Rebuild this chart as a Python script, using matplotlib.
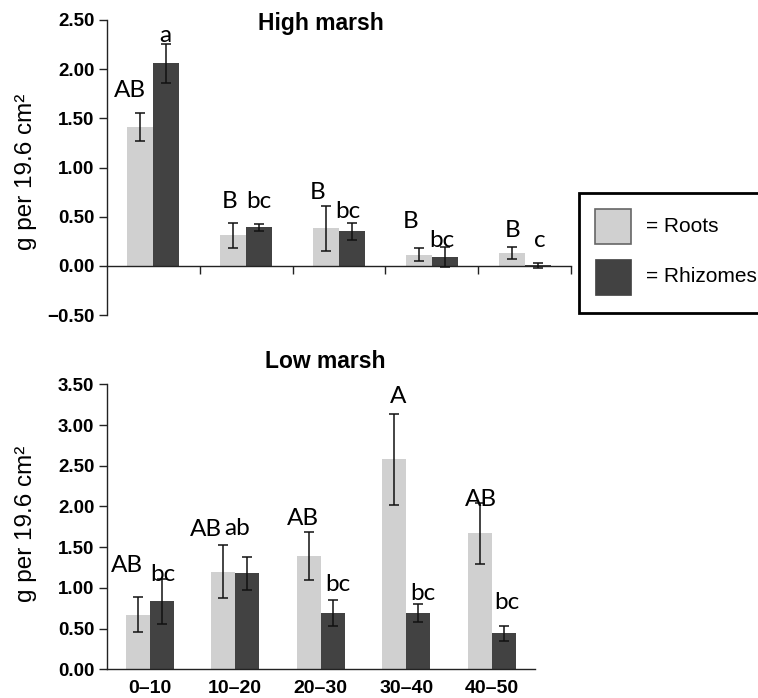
import numpy as np
import matplotlib
matplotlib.use("Agg")
import matplotlib.pyplot as plt
from matplotlib.patches import Rectangle

# depth classes (cm)
depths = ['0–10', '10–20', '20–30', '30–40', '40–50']

# high marsh biomass, g per 19.6 cm2
high_roots = [1.41, 0.31, 0.38, 0.115, 0.13]
high_roots_se = [0.14, 0.13, 0.23, 0.07, 0.063]
high_rhiz = [2.06, 0.39, 0.35, 0.09, 0.005]
high_rhiz_se = [0.20, 0.04, 0.085, 0.10, 0.025]
high_roots_letters = ['AB', 'B', 'B', 'B', 'B']
high_rhiz_letters = ['a', 'bc', 'bc', 'bc', 'c']

# low marsh
low_roots = [0.67, 1.20, 1.39, 2.58, 1.67]
low_roots_se = [0.215, 0.33, 0.295, 0.56, 0.375]
low_rhiz = [0.835, 1.18, 0.69, 0.69, 0.44]
low_rhiz_se = [0.28, 0.20, 0.16, 0.115, 0.09]
low_roots_letters = ['AB', 'AB', 'AB', 'A', 'AB']
low_rhiz_letters = ['bc', 'ab', 'bc', 'bc', 'bc']

# where the significance letters sit (x in category units, baseline y in data units)
high_roots_lpos = [(0.248, 1.717), (1.322, 0.585), (2.270, 0.680), (3.273, 0.382), (4.372, 0.291)]
high_rhiz_lpos = [(0.633, 2.275), (1.638, 0.585), (2.594, 0.484), (3.607, 0.190), (4.666, 0.190)]
low_roots_lpos = [(0.230, 1.199), (1.161, 1.638), (2.296, 1.773), (3.407, 3.268), (4.371, 2.006)]
low_rhiz_lpos = [(0.651, 1.085), (1.517, 1.650), (2.705, 0.966), (3.692, 0.851), (4.675, 0.737)]

ROOT_C = '#d0d0d0'
RHIZ_C = '#424242'
W, H = 758, 698
bw = 0.28

plt.rcParams['font.family'] = ['Liberation Sans', 'DejaVu Sans']

fig = plt.figure(figsize=(W / 100, H / 100), dpi=100)


def px(x0, y0, x1, y1):
    # pixel box (top-left origin) -> figure fraction rect
    return [x0 / W, 1 - y1 / H, (x1 - x0) / W, (y1 - y0) / H]


def draw_panel(ax, roots, roots_se, rhiz, rhiz_se, rl, zl, rpos, zpos):
    x = np.arange(len(depths)) + 0.5
    ax.bar(x - bw / 2, roots, bw, color=ROOT_C, zorder=1)
    ax.bar(x + bw / 2, rhiz, bw, color=RHIZ_C, zorder=1)
    ax.errorbar(x - bw / 2, roots, yerr=roots_se, fmt='none', ecolor='#111111',
                elinewidth=1.1, capsize=3.5, capthick=1.1, zorder=3)
    ax.errorbar(x + bw / 2, rhiz, yerr=rhiz_se, fmt='none', ecolor='#111111',
                elinewidth=1.1, capsize=3.5, capthick=1.1, zorder=3)
    for lab, (lx, ly) in zip(rl, rpos):
        ax.text(lx, ly, lab, ha='center', va='baseline', fontsize=17.5,
                family=['Lato', 'DejaVu Sans'], clip_on=False)
    for lab, (lx, ly) in zip(zl, zpos):
        ax.text(lx, ly, lab, ha='center', va='baseline', fontsize=17.5,
                family=['Lato', 'DejaVu Sans'], clip_on=False)
    ax.set_xlim(0, len(depths))
    ax.spines['top'].set_visible(False)
    ax.spines['right'].set_visible(False)
    for s in ['left', 'bottom']:
        ax.spines[s].set_linewidth(1.0)
        ax.spines[s].set_color('#222222')
    ax.tick_params(axis='y', direction='out', length=6, width=1.0, pad=3,
                   labelsize=13.5, color='#222222')
    ax.patch.set_alpha(0)


# ---- high marsh ----
ax1 = fig.add_axes(px(107, 20, 571, 315))
draw_panel(ax1, high_roots, high_roots_se, high_rhiz, high_rhiz_se,
           high_roots_letters, high_rhiz_letters, high_roots_lpos, high_rhiz_lpos)
ax1.set_ylim(-0.5, 2.5)
ax1.set_yticks(np.arange(-0.5, 2.51, 0.5))
ax1.set_yticklabels(['−0.50', '0.00', '0.50', '1.00', '1.50', '2.00', '2.50'],
                    fontweight='bold')
ax1.spines['bottom'].set_position(('data', 0))
ax1.set_xticks([1, 2, 3, 4, 5])
ax1.set_xticklabels([])
ax1.tick_params(axis='x', direction='out', length=6, width=1.0, color='#222222')

# ---- low marsh ----
ax2 = fig.add_axes(px(107, 384.3, 534.5, 669.3))
draw_panel(ax2, low_roots, low_roots_se, low_rhiz, low_rhiz_se,
           low_roots_letters, low_rhiz_letters, low_roots_lpos, low_rhiz_lpos)
ax2.set_ylim(0, 3.5)
ax2.set_yticks(np.arange(0, 3.51, 0.5))
ax2.set_yticklabels(['%.2f' % v for v in np.arange(0, 3.51, 0.5)], fontweight='bold')
ax2.set_xticks(np.arange(len(depths)) + 0.5)
ax2.set_xticklabels(depths, fontweight='bold', fontsize=14)
ax2.tick_params(axis='x', length=0, pad=8)

# titles and y labels
fig.text(321 / W, 1 - 30 / H, 'High marsh', ha='center', va='baseline',
         fontsize=16.5, fontweight='bold')
fig.text(325.5 / W, 1 - 368.3 / H, 'Low marsh', ha='center', va='baseline',
         fontsize=16.5, fontweight='bold')
fig.text(26 / W, 1 - 172 / H, 'g per 19.6 cm²', rotation=90, ha='center',
         va='center', fontsize=17.5)
fig.text(26 / W, 1 - 524 / H, 'g per 19.6 cm²', rotation=90, ha='center',
         va='center', fontsize=17.5)

# legend box, runs off the right edge like the original
box = px(578.5, 192.5, 780, 312.5)
fig.add_artist(Rectangle((box[0], box[1]), box[2], box[3], transform=fig.transFigure,
                         facecolor='white', edgecolor='black', linewidth=2.0))
r = px(595, 208.5, 630.5, 243.5)
fig.add_artist(Rectangle((r[0], r[1]), r[2], r[3], transform=fig.transFigure,
                         facecolor=ROOT_C, edgecolor='#666666', linewidth=1.2))
r = px(594.5, 258.5, 631, 295)
fig.add_artist(Rectangle((r[0], r[1]), r[2], r[3], transform=fig.transFigure,
                         facecolor=RHIZ_C, edgecolor=RHIZ_C, linewidth=0.5))
fig.text(645.5 / W, 1 - 226 / H, '= Roots', ha='left', va='center', fontsize=15)
fig.text(645.5 / W, 1 - 276.5 / H, '= Rhizomes', ha='left', va='center', fontsize=15)

fig.savefig('out.png', dpi=100)
